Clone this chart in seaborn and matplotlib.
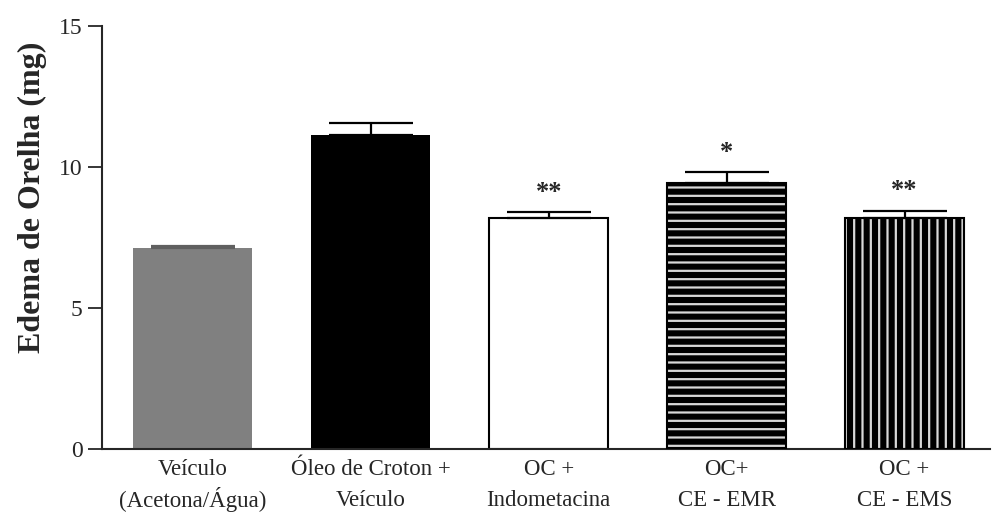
import matplotlib
matplotlib.use("Agg")
import matplotlib.pyplot as plt
import seaborn as sns
import numpy as np
import pandas as pd

categories = ["Veículo\n(Acetona/Água)", "Óleo de Croton +\nVeículo", "OC +\nIndometacina",
              "OC+\nCE - EMR", "OC +\nCE - EMS"]
means = [7.14, 11.13, 8.20, 9.42, 8.20]
sems = [0.05, 0.45, 0.20, 0.39, 0.26]
stars = ["", "", "**", "*", "**"]

face_colors = ["#808080", "#000000", "#ffffff", "#000000", "#000000"]
err_colors = ["#606060", "black", "black", "black", "black"]
hatches = [None, None, None, "--", "||"]

sns.set_style("ticks")
plt.rcParams["font.family"] = ["Liberation Serif", "DejaVu Serif"]
plt.rcParams["hatch.linewidth"] = 1.6

fig = plt.figure(figsize=(9.96, 5.14), dpi=100)
ax = fig.add_axes([0.1024, 0.1265, 0.8916, 0.8225])

df = pd.DataFrame({"cat": categories, "val": means})
sns.barplot(data=df, x="cat", y="val", ax=ax, width=0.67, color="gray",
            errorbar=None, saturation=1)

for i, p in enumerate(ax.patches):
    p.set_facecolor(face_colors[i])
    if hatches[i]:
        p.set_hatch(hatches[i])
        p.set_edgecolor("#d8d8d8")
        p.set_linewidth(0)
        x0, w, h = p.get_x(), p.get_width(), p.get_height()
        ax.bar(x0 + w / 2, h, width=w, fill=False, edgecolor="black", linewidth=1.5, zorder=3)
    elif face_colors[i] == "#ffffff":
        p.set_edgecolor("black")
        p.set_linewidth(1.5)
    else:
        p.set_edgecolor(face_colors[i])
        p.set_linewidth(0)

xs = np.arange(len(categories))
for i in range(len(xs)):
    ax.errorbar(xs[i], means[i], yerr=[[0], [sems[i]]], fmt="none",
                ecolor=err_colors[i], elinewidth=1.6, capsize=30, capthick=1.6, zorder=4)

for i, s in enumerate(stars):
    if s:
        ax.text(xs[i], means[i] + sems[i] + 0.3, s, ha="center", va="bottom",
                fontsize=19, fontweight="bold")

ax.set_ylim(0, 15)
ax.set_xlim(-0.51, 4.48)
ax.set_yticks([0, 5, 10, 15])
ax.tick_params(axis="y", length=10, width=1.3, labelsize=17, pad=4)
ax.tick_params(axis="x", length=0, labelsize=16.5, pad=7)
for i, lab in enumerate(ax.get_xticklabels()):
    lab.set_linespacing(1.36 if i == 0 else 1.62)
ax.set_xlabel("")
ax.set_ylabel("Edema de Orelha (mg)", fontsize=23, fontweight="bold")
ax.yaxis.set_label_coords(-0.062, 0.596)
for s in ["top", "right"]:
    ax.spines[s].set_visible(False)
ax.spines["left"].set_linewidth(1.5)
ax.spines["bottom"].set_linewidth(1.5)

fig.savefig("out.png", dpi=100)
